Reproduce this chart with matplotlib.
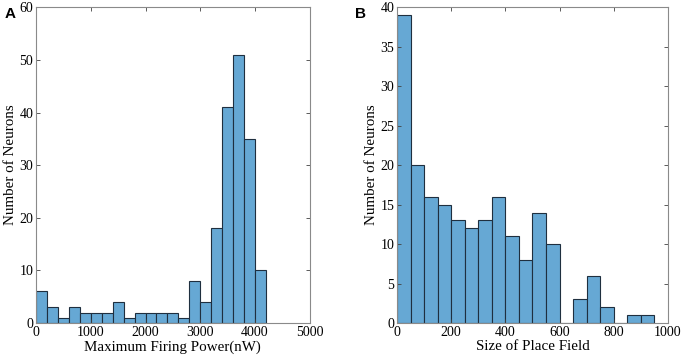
import numpy as np
import matplotlib.pyplot as plt

# counts
power_bin_width = 200
power_counts = [6, 3, 1, 3, 2, 2, 2, 4, 1, 2, 2, 2, 2, 1, 8, 4, 18, 41, 51, 35, 10]

field_bin_width = 50
field_counts = [39, 20, 16, 15, 13, 12, 13, 16, 11, 8, 14, 10, 0, 3, 6, 2, 0, 1, 1]

bar_color = '#66a8d4'
edge_color = '#1f2f3f'

plt.rcParams['font.family'] = ['Liberation Serif', 'DejaVu Serif']
plt.rcParams['font.size'] = 10

fig = plt.figure(figsize=(6.86, 3.63), dpi=100)
ax1 = fig.add_axes([0.0525, 0.110, 0.399, 0.870])
ax2 = fig.add_axes([0.5787, 0.110, 0.395, 0.870])


def draw_hist(ax, counts, width):
    edges = np.arange(len(counts)) * width
    ax.bar(edges, counts, width=width, align='edge', color=bar_color,
           edgecolor=edge_color, linewidth=0.8)


draw_hist(ax1, power_counts, power_bin_width)
ax1.set_xlim(0, 5000)
ax1.set_ylim(0, 60)
ax1.set_xticks(np.arange(0, 5001, 1000))
ax1.set_yticks(np.arange(0, 61, 10))
ax1.set_xlabel('Maximum Firing Power(nW)', fontsize=10.8, labelpad=1)
ax1.set_ylabel('Number of Neurons', fontsize=10.8, labelpad=2)

draw_hist(ax2, field_counts, field_bin_width)
ax2.set_xlim(0, 1000)
ax2.set_ylim(0, 40)
ax2.set_xticks(np.arange(0, 1001, 200))
ax2.set_yticks(np.arange(0, 41, 5))
ax2.set_xlabel('Size of Place Field', fontsize=10.8, labelpad=1)
ax2.set_ylabel('Number of Neurons', fontsize=10.8, labelpad=2)

for ax in (ax1, ax2):
    ax.tick_params(direction='in', top=True, right=True, length=3,
                   width=0.6, color='#404040', pad=2, labelsize=10)
    for s in ax.spines.values():
        s.set_color('#8a8a8a')
        s.set_linewidth(0.8)

fig.text(0.007, 0.95, 'A', fontsize=11, fontweight='bold',
         family=['Liberation Sans', 'DejaVu Sans'])
fig.text(0.517, 0.95, 'B', fontsize=11, fontweight='bold',
         family=['Liberation Sans', 'DejaVu Sans'])

fig.savefig('out.png', dpi=100)
